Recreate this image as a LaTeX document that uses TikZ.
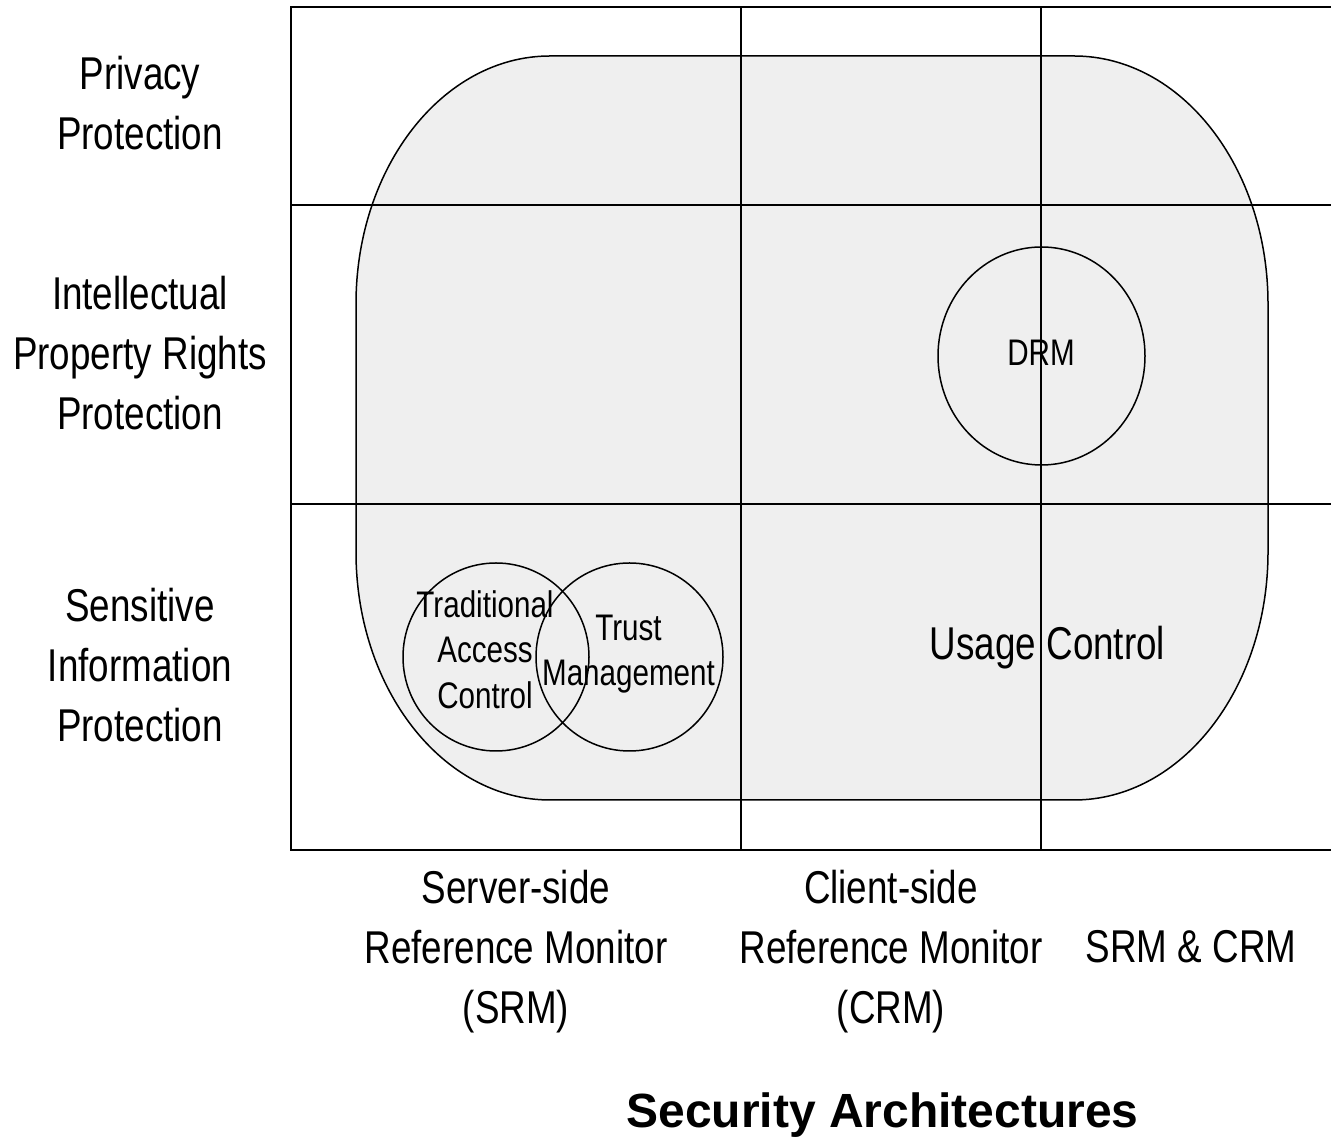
\documentclass[tikz,border=0pt]{standalone}
\usepackage{fontspec}
\setmainfont[FakeStretch=0.8]{Liberation Sans}
\newfontfamily\titlefont{Liberation Sans}
\usetikzlibrary{shapes.geometric}
\definecolor{panel}{HTML}{EFEFEF}
\begin{document}
\begin{tikzpicture}[x=1pt,y=1pt,
  frame/.style={line width=2pt,black},
  gridline/.style={line width=1.5pt,black},
  blob/.style={fill=panel,draw=black,line width=1.5pt},
  circ/.style={ellipse,draw=black,line width=1.5pt,inner sep=0pt},
  bigtext/.style={inner sep=0pt,align=center,font=\fontsize{46}{60}\selectfont},
  smalltext/.style={inner sep=0pt,align=center,font=\fontsize{37}{45.5}\selectfont},
  titletext/.style={inner sep=0pt,font=\titlefont\bfseries\fontsize{48}{56}\selectfont}]
\useasboundingbox (0,0) rectangle (1331,1140);
% usage control region
\path[blob] (550,1084) -- (1074,1084)
  arc[start angle=90,end angle=0,x radius=194,y radius=248] -- (1268,588)
  arc[start angle=0,end angle=-90,x radius=194,y radius=248] -- (550,340)
  arc[start angle=270,end angle=180,x radius=194,y radius=248] -- (356,836)
  arc[start angle=180,end angle=90,x radius=194,y radius=248] -- cycle;
% grid
\coordinate (tl) at (291,1133);
\coordinate (tr) at (1331,1133);
\coordinate (bl) at (291,290);
\coordinate (br) at (1331,290);
\draw[frame] (tr) -- (tl) -- (bl) -- (br);
\draw[gridline] (291,935) -- (1331,935);
\draw[gridline] (291,636) -- (1331,636);
\draw[gridline] (741,1133) -- (741,290);
\draw[gridline] (1041,1133) -- (1041,290);
% circles
\node[circ,minimum width=207pt,minimum height=218pt] (drmc) at (1041.5,784) {};
\node[circ,minimum width=186pt,minimum height=188pt] (tacc) at (496,483) {};
\node[circ,minimum width=187pt,minimum height=188pt] (tmc) at (629.5,483) {};
% texts
\node[smalltext] (drm) at (1041,787) {DRM};
\node[smalltext] (tac) at (485,490.7) {Traditional\\Access\\Control};
\node[smalltext] (tm) at (628.5,486) {Trust\\Management};
\node[bigtext,anchor=base] (uc) at (1047.5,480) {Usage Control};
\node[bigtext] (pp) at (140,1036.5) {Privacy\\Protection};
\node[bigtext] (ipr) at (140,787) {Intellectual\\Property Rights\\Protection};
\node[bigtext] (sip) at (140,475) {Sensitive\\Information\\Protection};
\node[bigtext] (srm) at (516,188) {Server-side\\Reference Monitor\\(SRM)};
\node[bigtext] (crm) at (891,188) {Client-side\\Reference Monitor\\(CRM)};
\node[bigtext,anchor=base] (both) at (1191,177) {SRM \& CRM};
\node[titletext,anchor=base] (title) at (882.5,12) {Security Architectures};
\end{tikzpicture}
\end{document}
